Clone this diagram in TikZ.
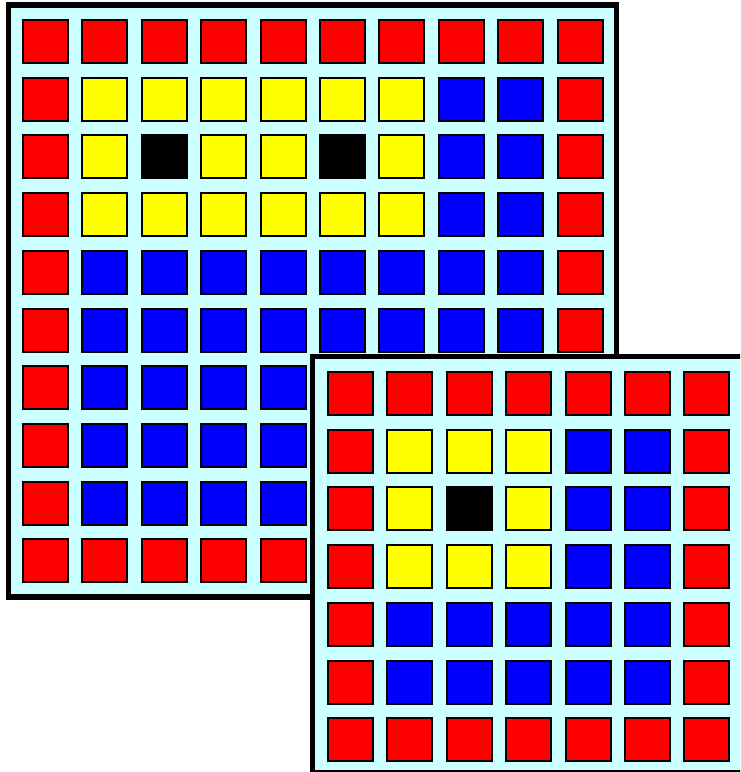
\documentclass[tikz,border=0pt]{standalone}
\definecolor{cR}{RGB}{255,0,0}
\definecolor{cY}{RGB}{255,255,0}
\definecolor{cB}{RGB}{0,0,255}
\definecolor{cK}{RGB}{0,0,0}
\definecolor{boardbg}{RGB}{204,255,255}
\tikzset{
  board/.style={draw=black,line width=5.5pt,fill=boardbg},
  cell/.style={draw=black,line width=2pt}
}
\begin{document}
\begin{tikzpicture}[x=1pt,y=-1pt]
\useasboundingbox (0,0) rectangle (740,772);
\clip (0,0) rectangle (740,772);
\fill[white] (0,0) rectangle (740,772);
% big board, 10x10
\draw[board] (8.5,5) rectangle (616.5,597);
\foreach \row [count=\j from 0] in {
  {R,R,R,R,R,R,R,R,R,R},
  {R,Y,Y,Y,Y,Y,Y,B,B,R},
  {R,Y,K,Y,Y,K,Y,B,B,R},
  {R,Y,Y,Y,Y,Y,Y,B,B,R},
  {R,B,B,B,B,B,B,B,B,R},
  {R,B,B,B,B,B,B,B,B,R},
  {R,B,B,B,B,B,B,B,B,R},
  {R,B,B,B,B,B,B,B,B,R},
  {R,B,B,B,B,B,B,B,B,R},
  {R,R,R,R,R,R,R,R,R,R}}
  \foreach \c [count=\i from 0] in \row
    \draw[cell,fill=c\c] (23+59.4*\i,20+57.7*\j) rectangle ++(45,43);
% small board, 7x7
\draw[board] (312.5,356.5) rectangle (744.5,772.5);
\foreach \row [count=\j from 0] in {
  {R,R,R,R,R,R,R},
  {R,Y,Y,Y,B,B,R},
  {R,Y,K,Y,B,B,R},
  {R,Y,Y,Y,B,B,R},
  {R,B,B,B,B,B,R},
  {R,B,B,B,B,B,R},
  {R,R,R,R,R,R,R}}
  \foreach \c [count=\i from 0] in \row
    \draw[cell,fill=c\c] (328+59.4*\i,372+57.7*\j) rectangle ++(45,43);
\end{tikzpicture}
\end{document}
